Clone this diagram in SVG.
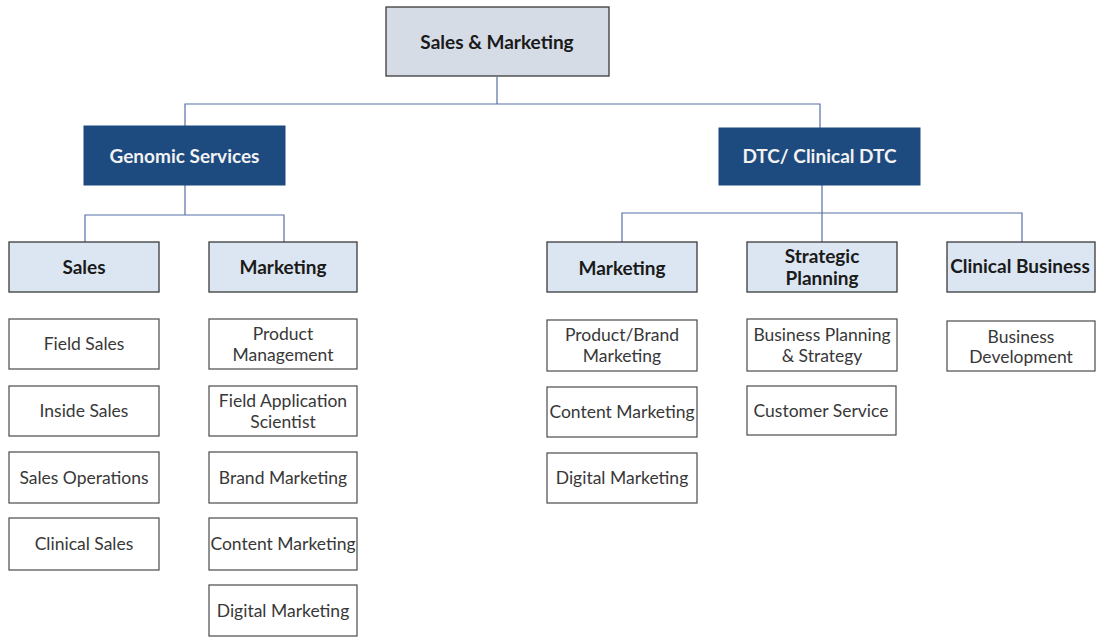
<svg xmlns="http://www.w3.org/2000/svg" width="1096" height="637" viewBox="0 0 1096 637">
<style>
text{font-family:Lato,"Liberation Sans",sans-serif;text-anchor:middle;dominant-baseline:central}
.top{fill:#d5dce6;stroke:#3a3a3a;stroke-width:1.3}
.l2{fill:#1d4a7f;stroke:#1d4a7f;stroke-width:1}
.l3{fill:#dce6f2;stroke:#3a3a3a;stroke-width:1.3}
.leaf{fill:#ffffff;stroke:#4a4a4a;stroke-width:1.2}
.tb{font-weight:bold;font-size:19px;fill:#1a1a1a}
.tw{font-weight:bold;font-size:19px;fill:#f2f2f2}
.tl{font-size:17.5px;fill:#383838}
.conn{fill:none;stroke:#5470a8;stroke-width:1.2}
</style>
<g id="connectors">
<path class="conn" d="M497,77 V104 M185,126 V104 H820 V128"/>
<path class="conn" d="M185,185 V215 M85,242 V215 H284 V242"/>
<path class="conn" d="M822,185 V213 M622,242 V213 H1022 V242 M822,213 V242"/>
</g>
<g id="n-sales-marketing"><rect class="top" x="386" y="7" width="223" height="69"/><text class="tb" x="497" y="41">Sales &amp; Marketing</text></g>
<g id="n-genomic"><rect class="l2" x="84" y="126" width="201" height="59"/><text class="tw" x="184.5" y="155">Genomic Services</text></g>
<g id="n-dtc"><rect class="l2" x="719" y="128" width="201" height="57"/><text class="tw" x="819.5" y="155">DTC/ Clinical DTC</text></g>
<g id="n-sales"><rect class="l3" x="9" y="242" width="150" height="50"/><text class="tb" x="84" y="266">Sales</text></g>
<g id="n-gs-marketing"><rect class="l3" x="209" y="242" width="148" height="50"/><text class="tb" x="283" y="266">Marketing</text></g>
<g id="n-dtc-marketing"><rect class="l3" x="547" y="242" width="150" height="50"/><text class="tb" x="622" y="267">Marketing</text></g>
<g id="n-strategic"><rect class="l3" x="747" y="242" width="150" height="50"/><text class="tb" x="822" y="255">Strategic</text><text class="tb" x="822" y="277">Planning</text></g>
<g id="n-clinical-business"><rect class="l3" x="947" y="242" width="148" height="50"/><text class="tb" x="1020" y="265">Clinical Business</text></g>
<g id="n-field-sales"><rect class="leaf" x="9" y="319" width="150" height="50"/><text class="tl" x="84" y="343">Field Sales</text></g>
<g id="n-inside-sales"><rect class="leaf" x="9" y="386" width="150" height="50"/><text class="tl" x="84" y="410">Inside Sales</text></g>
<g id="n-sales-ops"><rect class="leaf" x="9" y="452" width="150" height="51"/><text class="tl" x="84" y="477">Sales Operations</text></g>
<g id="n-clinical-sales"><rect class="leaf" x="9" y="518" width="150" height="52"/><text class="tl" x="84" y="543">Clinical Sales</text></g>
<g id="n-product-mgmt"><rect class="leaf" x="209" y="319" width="148" height="50"/><text class="tl" x="283" y="333">Product</text><text class="tl" x="283" y="354">Management</text></g>
<g id="n-fas"><rect class="leaf" x="209" y="386" width="148" height="50"/><text class="tl" x="283" y="400">Field Application</text><text class="tl" x="283" y="421">Scientist</text></g>
<g id="n-brand"><rect class="leaf" x="209" y="452" width="148" height="51"/><text class="tl" x="283" y="477">Brand Marketing</text></g>
<g id="n-gs-content"><rect class="leaf" x="209" y="518" width="148" height="52"/><text class="tl" x="283" y="543">Content Marketing</text></g>
<g id="n-gs-digital"><rect class="leaf" x="209" y="585" width="148" height="51"/><text class="tl" x="283" y="610">Digital Marketing</text></g>
<g id="n-product-brand"><rect class="leaf" x="547" y="320" width="150" height="51"/><text class="tl" x="622" y="334">Product/Brand</text><text class="tl" x="622" y="355">Marketing</text></g>
<g id="n-dtc-content"><rect class="leaf" x="547" y="387" width="150" height="50"/><text class="tl" x="622" y="411">Content Marketing</text></g>
<g id="n-dtc-digital"><rect class="leaf" x="547" y="453" width="150" height="50"/><text class="tl" x="622" y="477">Digital Marketing</text></g>
<g id="n-bps"><rect class="leaf" x="747" y="319" width="150" height="52"/><text class="tl" x="822" y="334">Business Planning</text><text class="tl" x="822" y="355">&amp; Strategy</text></g>
<g id="n-customer-service"><rect class="leaf" x="747" y="386" width="149" height="49"/><text class="tl" x="821" y="410">Customer Service</text></g>
<g id="n-bizdev"><rect class="leaf" x="947" y="321" width="148" height="50"/><text class="tl" x="1021" y="336">Business</text><text class="tl" x="1021" y="356">Development</text></g>
</svg>
